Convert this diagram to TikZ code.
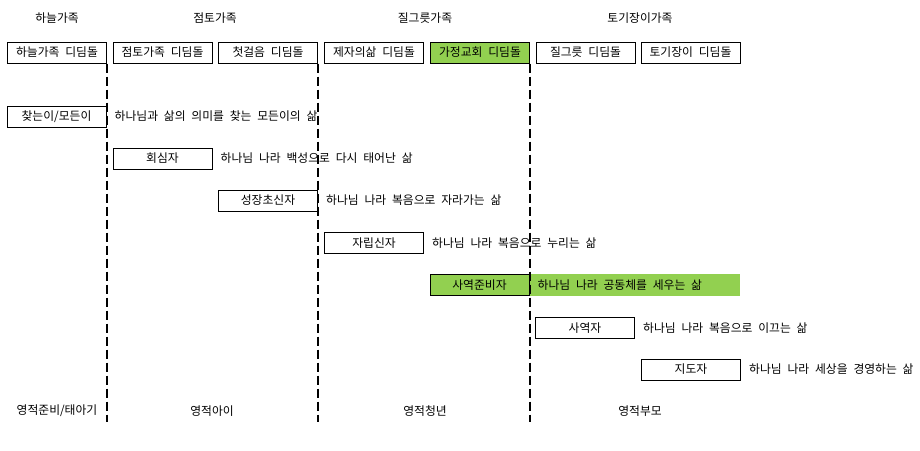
\documentclass[tikz,border=0pt]{standalone}
\usepackage{fontspec}
\setmainfont[WordSpace=2.2]{Noto Sans CJK KR}
\usepackage{tikz}
\usetikzlibrary{positioning}
\definecolor{leafgreen}{HTML}{92D050}

\begin{document}
\begin{tikzpicture}[x=1pt,y=-1pt,
        font=\fontsize{11.8}{13}\selectfont,
        stone/.style={draw, line width=1pt, minimum width=99pt, minimum height=21pt, inner sep=0pt},
        life/.style={anchor=west, inner sep=0pt, xshift=8pt},
        border/.style={line width=2pt, dash pattern=on 9pt off 4pt}]
        \useasboundingbox (0,0) rectangle (920,450);

        % families
        \node (skyfam) at (57,18) {하늘가족};
        \node (clayfam) at (215,18) {점토가족};
        \node (potfam) at (425,18) {질그릇가족};
        \node (potterfam) at (640,18) {토기장이가족};

        % stepping stones
        \node[stone] (sky) at (57,52.5) {하늘가족 디딤돌};
        \node[stone] (clay) at (162.5,52.5) {점토가족 디딤돌};
        \node[stone] (first) at (268,52.5) {첫걸음 디딤돌};
        \node[stone] (disciple) at (374,52.5) {제자의삶 디딤돌};
        \node[stone, fill=leafgreen] (house) at (480,52.5) {가정교회 디딤돌};
        \node[stone] (pot) at (585.5,52.5) {질그릇 디딤돌};
        \node[stone] (potter) at (690.5,52.5) {토기장이 디딤돌};

        % stages
        \fill[leafgreen] (529,274) rectangle (740,296);
        \node[stone] (seeker) at (56.5,116.5) {찾는이/모든이};
        \node[stone] (convert) at (162.5,158.5) {회심자};
        \node[stone] (growing) at (268,200.5) {성장초신자};
        \node[stone] (standing) at (374,243) {자립신자};
        \node[stone, fill=leafgreen] (prep) at (479.5,285) {사역준비자};
        \node[stone] (minister) at (585,328) {사역자};
        \node[stone] (leader) at (691,369.5) {지도자};

        \node[life] at (seeker.east) {하나님과 삶의 의미를 찾는 모든이의 삶};
        \node[life] at (convert.east) {하나님 나라 백성으로 다시 태어난 삶};
        \node[life] at (growing.east) {하나님 나라 복음으로 자라가는 삶};
        \node[life] at (standing.east) {하나님 나라 복음으로 누리는 삶};
        \node[life] at (prep.east) {하나님 나라 공동체를 세우는 삶};
        \node[life] at (minister.east) {하나님 나라 복음으로 이끄는 삶};
        \node[life] at (leader.east) {하나님 나라 세상을 경영하는 삶};

        % ages
        \node (unborn) at (57,411) {영적준비/태아기};
        \node (child) at (212,411) {영적아이};
        \node (youth) at (425,411) {영적청년};
        \node (parent) at (640,411) {영적부모};

        \coordinate (bottom) at (0,422);
        \draw[border] (sky.south east) -- (sky.south east |- bottom);
        \draw[border] (first.south east) -- (first.south east |- bottom);
        \draw[border] (house.south east) -- (house.south east |- bottom);
    \end{tikzpicture}
\end{document}
